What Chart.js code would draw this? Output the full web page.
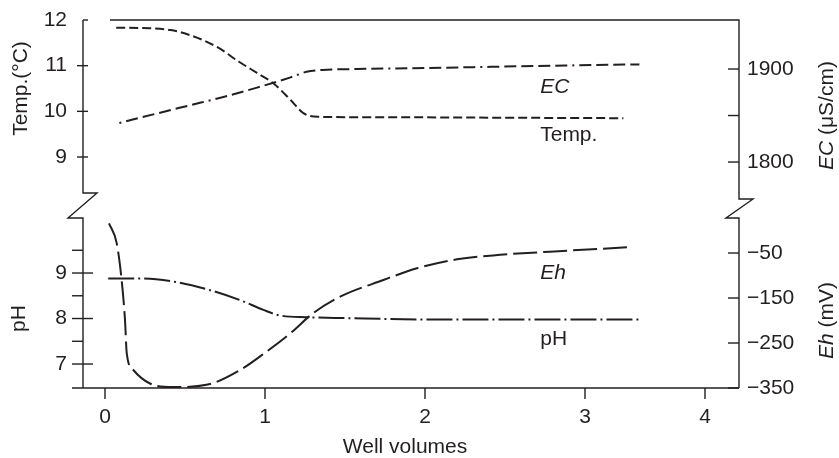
<!DOCTYPE html>
<html>
<head>
<meta charset="utf-8">
<script src="https://cdn.jsdelivr.net/npm/chart.js@4.4.1/dist/chart.umd.min.js"></script>
<style>
  html, body { margin: 0; padding: 0; background: #fff; }
  #wellChart { display: block; }
</style>
</head>
<body>
<canvas id="wellChart" width="839" height="458"></canvas>
<script>
// ---------- field readings vs. purged well volumes ----------
const tempX = [0.07, 0.28, 0.41, 0.53, 0.70, 0.84, 0.95, 1.05, 1.16, 1.24, 1.33, 1.78, 2.50, 3.24];
const tempC = [11.83, 11.82, 11.78, 11.67, 11.41, 11.08, 10.84, 10.62, 10.25, 9.96, 9.88, 9.87, 9.86, 9.85];

const ecX = [0.09, 0.32, 0.53, 0.74, 0.95, 1.16, 1.26, 1.36, 1.57, 2.00, 2.60, 3.34];
const ecVal = [1842, 1852, 1861, 1870, 1880, 1891, 1897, 1899, 1900, 1901, 1903, 1905];

const phX = [0.02, 0.22, 0.43, 0.64, 0.84, 0.99, 1.09, 1.26, 1.50, 2.00, 2.60, 3.34];
const phVal = [8.88, 8.88, 8.81, 8.64, 8.41, 8.19, 8.07, 8.03, 8.01, 7.98, 7.98, 7.98];

const ehX = [0.025, 0.073, 0.104, 0.125, 0.136, 0.177, 0.281, 0.427, 0.635, 0.844, 1.01, 1.16, 1.30, 1.47, 1.74, 1.95, 2.20, 2.47, 2.78, 3.28];
const ehVal = [16, -28, -110, -199, -273, -310, -340, -348, -343, -310, -269, -228, -184, -147, -110, -84, -64, -54, -47, -37];

// ---------- ticks ----------
const xTickPos = [0, 1, 2, 3, 3.75];
const xTickLabels = ['0', '1', '2', '3', '4'];
const tempTicks = [9, 10, 11, 12];
const ecTicks = [1800, 1900];
const ecMinor = [1850];
const phTicks = [7, 8, 9];
const phMinor = [7.5, 8.5, 9.5];
const ehTicks = [-350, -250, -150, -50];

// ---------- in-plot series labels ----------
const labelText = ['EC', 'Temp.', 'Eh', 'pH'];
const labelAxis = ['ec', 'temp', 'eh', 'ph'];
const labelX = [2.72, 2.72, 2.72, 2.72];
const labelY = [1874, 9.34, -108, 7.42];
const labelItalic = [true, false, true, false];

const INK = '#231f20';
const FAMILY = '"Liberation Sans", Arial, Helvetica, sans-serif';
const FSIZE = 21;
const font = (italic) => (italic ? 'italic ' : '') + FSIZE + 'px ' + FAMILY;

const pts = (xs, ys) => xs.map((x, i) => ({ x, y: ys[i] }));

function line(ctx, x1, y1, x2, y2) {
  ctx.beginPath();
  ctx.moveTo(x1, y1);
  ctx.lineTo(x2, y2);
  ctx.stroke();
}

// text made of runs (italic symbol + plain unit), centred on (cx, cy)
function drawRuns(ctx, runs, cx, cy, rot) {
  ctx.save();
  ctx.translate(cx, cy);
  ctx.rotate(rot);
  let total = 0;
  runs.forEach(r => { ctx.font = font(r.italic); total += ctx.measureText(r.text).width; });
  let x = -total / 2;
  ctx.textAlign = 'left';
  ctx.textBaseline = 'middle';
  ctx.fillStyle = INK;
  runs.forEach(r => {
    ctx.font = font(r.italic);
    ctx.fillText(r.text, x, 0);
    x += ctx.measureText(r.text).width;
  });
  ctx.restore();
}

const mid = arr => (arr[0] + arr[arr.length - 1]) / 2;

// frame with broken axes, tick marks, titles and series labels
const brokenFrame = {
  id: 'brokenFrame',
  afterDraw(chart) {
    const { ctx, chartArea: a, scales: s } = chart;
    const L = a.left, R = a.right, T = a.top, B = a.bottom;
    const yb = s.temp.bottom; // boundary between the two panels

    ctx.save();
    ctx.strokeStyle = INK;
    ctx.lineWidth = 1.4;
    ctx.lineJoin = 'miter';

    // left axis with break
    ctx.beginPath();
    ctx.moveTo(L, T);
    ctx.lineTo(L, yb - 12);
    ctx.lineTo(L + 14, yb - 12);
    ctx.lineTo(L - 15, yb + 13);
    ctx.lineTo(L, yb + 13);
    ctx.lineTo(L, B);
    ctx.stroke();

    // top border + right axis with break
    ctx.beginPath();
    ctx.moveTo(L + 27, T);
    ctx.lineTo(R, T);
    ctx.lineTo(R, yb - 6);
    ctx.lineTo(R + 14, yb - 6);
    ctx.lineTo(R - 13, yb + 13);
    ctx.lineTo(R, yb + 13);
    ctx.lineTo(R, B);
    ctx.stroke();

    // bottom axis
    line(ctx, L - 11, B, R, B);

    // tick marks
    tempTicks.forEach(v => {
      const y = s.temp.getPixelForValue(v);
      line(ctx, v === tempTicks[tempTicks.length - 1] ? L : L - 6, y, L + 5, y);
    });
    phTicks.forEach(v => { const y = s.ph.getPixelForValue(v); line(ctx, L - 11, y, L + 10, y); });
    phMinor.forEach(v => { const y = s.ph.getPixelForValue(v); line(ctx, L - 11, y, L, y); });
    ecTicks.concat(ecMinor).forEach(v => { const y = s.ec.getPixelForValue(v); line(ctx, R - 11, y, R, y); });
    ehTicks.forEach(v => { const y = s.eh.getPixelForValue(v); line(ctx, R - 11, y, R, y); });
    xTickPos.forEach(v => { const x = s.x.getPixelForValue(v); line(ctx, x, B, x, B + 11); });

    // axis titles
    drawRuns(ctx, [{ text: 'Temp.(°C)' }], 21, s.temp.getPixelForValue(mid(tempTicks)), -Math.PI / 2);
    drawRuns(ctx, [{ text: 'pH' }], 19, s.ph.getPixelForValue(mid(phTicks)), -Math.PI / 2);
    drawRuns(ctx, [{ text: 'EC', italic: true }, { text: ' (μS/cm)' }], 827, s.ec.getPixelForValue(mid(ecTicks)), -Math.PI / 2);
    drawRuns(ctx, [{ text: 'Eh', italic: true }, { text: ' (mV)' }], 827, s.eh.getPixelForValue(mid(ehTicks)), -Math.PI / 2);
    drawRuns(ctx, [{ text: 'Well volumes' }], 405, 447, 0);

    // series labels
    ctx.fillStyle = INK;
    ctx.textAlign = 'left';
    ctx.textBaseline = 'alphabetic';
    labelText.forEach((t, i) => {
      ctx.font = font(labelItalic[i]);
      ctx.fillText(t, s.x.getPixelForValue(labelX[i]), s[labelAxis[i]].getPixelForValue(labelY[i]));
    });
    ctx.restore();
  }
};

function yAxis(position, weight, stackWeight, min, max, ticks, pad, width, fmt) {
  return {
    type: 'linear',
    position,
    stack: position,
    stackWeight,
    weight,
    min,
    max,
    grid: { display: false, drawTicks: false },
    border: { display: false },
    afterBuildTicks: sc => { sc.ticks = ticks.map(v => ({ value: v })); },
    afterFit: sc => {
      sc.width = width;
      // labels at the panel edges may overhang; keep the plot area fixed
      sc.paddingTop = 0;
      sc.paddingBottom = 0;
    },
    ticks: {
      padding: pad,
      color: INK,
      font: { family: FAMILY, size: FSIZE },
      callback: fmt || (v => String(v))
    }
  };
}

const lineSet = (data, axis, dash) => ({
  data,
  yAxisID: axis,
  borderColor: INK,
  borderWidth: 2,
  borderDash: dash,
  pointRadius: 0,
  fill: false,
  cubicInterpolationMode: 'monotone'
});

new Chart(document.getElementById('wellChart'), {
  type: 'line',
  data: {
    datasets: [
      lineSet(pts(tempX, tempC), 'temp', [9, 4]),
      lineSet(pts(ecX, ecVal), 'ec', [2, 5, 12, 5, 12, 5, 12, 5, 12, 5, 12, 5]),
      lineSet(pts(phX, phVal), 'ph', [26, 4, 2, 4]),
      lineSet(pts(ehX, ehVal), 'eh', [24, 6])
    ]
  },
  options: {
    responsive: false,
    animation: false,
    layout: { padding: { top: 20, left: 0, right: 0, bottom: 0 } },
    plugins: { legend: { display: false }, tooltip: { enabled: false } },
    scales: {
      x: {
        type: 'linear',
        position: 'bottom',
        min: -0.1375,
        max: 3.9625,
        grid: { display: false, drawTicks: false },
        border: { display: false },
        afterBuildTicks: sc => { sc.ticks = xTickPos.map(v => ({ value: v })); },
        afterFit: sc => {
          sc.height = 70;
          sc.paddingLeft = 0;
          sc.paddingRight = 0;
        },
        ticks: {
          padding: 17,
          autoSkip: false,
          maxRotation: 0,
          color: INK,
          font: { family: FAMILY, size: FSIZE },
          callback: (v, i) => xTickLabels[i]
        }
      },
      temp: yAxis('left', 1, 185, 7.949, 12, tempTicks, 16, 83),
      ph: yAxis('left', 0, 183, 6.473, 10.495, phTicks, 16, 83),
      ec: yAxis('right', 0, 185, 1753.8, 1952.7, ecTicks, 8, 100),
      eh: yAxis('right', 1, 183, -350, 56.7, ehTicks, 8, 100,
        v => (v < 0 ? '\u2212' + Math.abs(v) : String(v)))
    }
  },
  plugins: [brokenFrame]
});
</script>
</body>
</html>
